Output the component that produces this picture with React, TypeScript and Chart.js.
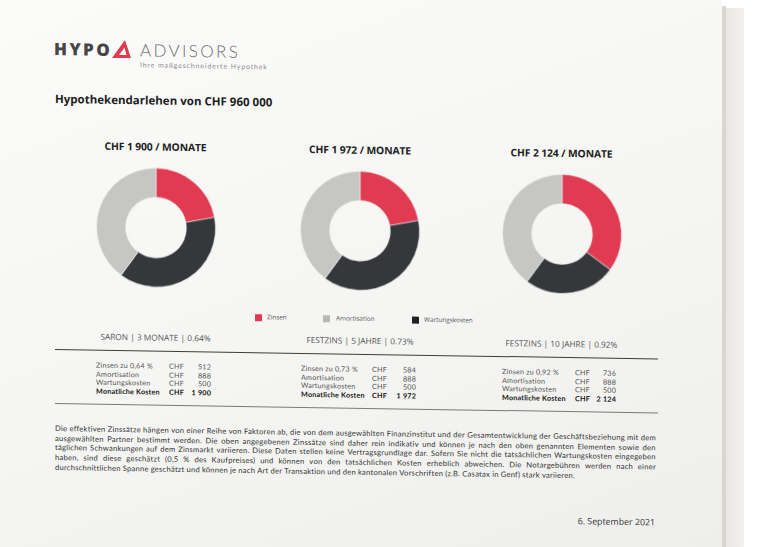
import React, { useEffect, useRef } from 'react';
import { Chart, registerables } from 'chart.js';

Chart.register(...registerables);

// ---- data ----
const sliceLabels = ['Zinsen', 'Wartungskosten', 'Amortisation'];
const sliceColors = ['#e13b51', '#35383b', '#c6c6c4'];
const saronSlices = [22, 38, 40];
const fest5Slices = [22, 38, 40];
const fest10Slices = [35, 25, 40];

const chartTitles = ['CHF 1 900 / MONATE', 'CHF 1 972 / MONATE', 'CHF 2 124 / MONATE'];
const productLabels = ['SARON | 3 MONATE | 0.64%', 'FESTZINS | 5 JAHRE | 0.73%', 'FESTZINS | 10 JAHRE | 0.92%'];
const rateLabels = ['Zinsen zu 0,64 %', 'Zinsen zu 0,73 %', 'Zinsen zu 0,92 %'];
const interestCosts = ['512', '584', '736'];
const amortisationCosts = ['888', '888', '888'];
const maintenanceCosts = ['500', '500', '500'];
const monthlyTotals = ['1 900', '1 972', '2 124'];

const legendItems = ['Zinsen', 'Amortisation', 'Wartungskosten'];
const legendColors = ['#e13b51', '#b8b8b6', '#1e1f21'];

const paragraphLines = [
  'Die effektiven Zinssätze hängen von einer Reihe von Faktoren ab, die von dem ausgewählten Finanzinstitut und der Gesamtentwicklung der Geschäftsbeziehung mit dem',
  'ausgewählten Partner bestimmt werden. Die oben angegebenen Zinssätze sind daher rein indikativ und können je nach den oben genannten Elementen sowie den',
  'täglichen Schwankungen auf dem Zinsmarkt variieren. Diese Daten stellen keine Vertragsgrundlage dar. Sofern Sie nicht die tatsächlichen Wartungskosten eingegeben',
  'haben, sind diese geschätzt (0,5 % des Kaufpreises) und können von den tatsächlichen Kosten erheblich abweichen. Die Notargebühren werden nach einer',
  'durchschnittlichen Spanne geschätzt und können je nach Art der Transaktion und den kantonalen Vorschriften (z.B. Casatax in Genf) stark variieren.',
];

const FONT = '"Open Sans", "DejaVu Sans", sans-serif';
const TIGHT = 'Lato, "Liberation Sans", sans-serif';
const centersX = [155.5, 360, 561.5];
const centerY = 226;
const CANVAS = 140;

function Donut({ values, cx }: { values: number[]; cx: number }) {
  const ref = useRef<HTMLCanvasElement>(null);
  useEffect(() => {
    const chart = new Chart(ref.current!, {
      type: 'doughnut',
      data: {
        labels: sliceLabels,
        datasets: [
          {
            data: values,
            backgroundColor: sliceColors,
            borderWidth: 0.6,
            borderColor: '#f2f2f0',
          },
        ],
      },
      options: {
        responsive: false,
        animation: false,
        radius: 59.5,
        cutout: '51%',
        events: [],
        layout: { padding: 0 },
        plugins: { legend: { display: false }, tooltip: { enabled: false } },
      } as any,
    });
    return () => chart.destroy();
  }, []);
  return (
    <canvas
      ref={ref}
      width={CANVAS}
      height={CANVAS}
      style={{ position: 'absolute', left: cx - CANVAS / 2, top: centerY - CANVAS / 2, width: CANVAS, height: CANVAS }}
    />
  );
}

const abs = (s: React.CSSProperties): React.CSSProperties => ({ position: 'absolute', whiteSpace: 'nowrap', fontFamily: FONT, ...s });

function CostTable({ i, left, chfLeft, right, top }: { i: number; left: number; chfLeft: number; right: number; top: number }) {
  const rows = [
    [rateLabels[i], interestCosts[i], false],
    ['Amortisation', amortisationCosts[i], false],
    ['Wartungskosten', maintenanceCosts[i], false],
    ['Monatliche Kosten', monthlyTotals[i], true],
  ] as [string, string, boolean][];
  return (
    <>
      {rows.map(([label, val, bold], r) => {
        const st: React.CSSProperties = {
          fontFamily: TIGHT,
          fontSize: 7.2,
          lineHeight: '8.6px',
          letterSpacing: 0.2,
          top: top + r * 8.8,
          color: bold ? '#161616' : '#555',
          fontWeight: bold ? 700 : 400,
        };
        return (
          <React.Fragment key={r}>
            <div style={abs({ ...st, left })}>{label}</div>
            <div style={abs({ ...st, left: chfLeft })}>CHF</div>
            <div style={abs({ ...st, left: right - 30, width: 30, textAlign: 'right' })}>{val}</div>
          </React.Fragment>
        );
      })}
    </>
  );
}

function ParagraphLine({ text, top, last }: { text: string; top: number; last: boolean }) {
  const words = text.split(' ');
  return (
    <div
      style={{
        position: 'absolute',
        left: 55,
        width: 601,
        top,
        height: 9.1,
        display: 'flex',
        justifyContent: last ? 'flex-start' : 'space-between',
        columnGap: last ? 2.0 : 0,
        fontFamily: TIGHT,
        fontSize: 7.6,
        lineHeight: '9.1px',
        letterSpacing: 0.24,
        color: '#333',
        whiteSpace: 'nowrap',
      }}
    >
      {words.map((w, k) => (
        <span key={k}>{w}</span>
      ))}
    </div>
  );
}

export default function App() {
  const slices = [saronSlices, fest5Slices, fest10Slices];
  const tablePos = [
    { left: 96, chfLeft: 169, right: 211 },
    { left: 301, chfLeft: 372, right: 416 },
    { left: 502, chfLeft: 575, right: 616 },
  ];
  return (
    <div style={{ position: 'fixed', left: 0, top: 0, width: 759, height: 547, overflow: 'hidden', background: '#ffffff' }}>
      {/* paper */}
      <div style={{ position: 'absolute', left: 0, top: 0, width: 722, height: 547, background: 'linear-gradient(160deg, #fbfbfa 0%, #f5f5f3 55%, #eeeeec 100%)' }} />
      <div style={{ position: 'absolute', left: 722, top: 6, width: 4, height: 541, background: '#d9d6d0' }} />
      <div style={{ position: 'absolute', left: 726, top: 8, width: 18, height: 539, background: 'linear-gradient(90deg, #e9e7e3, #f3f2ef)' }} />

      <div style={{ position: 'absolute', left: 0, top: 0, width: 759, height: 547, transform: 'skewY(0.9deg)', transformOrigin: '55px 0px' }}>
        {/* logo */}
        <div style={abs({ left: 54, top: 40, fontSize: 17, lineHeight: '17px', fontWeight: 800, letterSpacing: 2.4, color: '#464646' })}>HYPO</div>
        <svg style={{ position: 'absolute', left: 112, top: 39 }} width={19} height={18} viewBox="0 0 19 18">
          <path d="M0 18 L13 0 L19 18 Z M7 15 L12.5 7.5 L14.5 15 Z" fill="#e2394f" fillRule="evenodd" />
        </svg>
        <div style={abs({ left: 140, top: 38.5, fontFamily: TIGHT, fontSize: 17, lineHeight: '20.4px', fontWeight: 300, letterSpacing: 2.35, color: '#6b6b6b' })}>ADVISORS</div>
        <div style={abs({ left: 140, top: 59.2, fontFamily: TIGHT, fontSize: 6.9, lineHeight: '8.2px', letterSpacing: 0.9, color: '#8a8a8a' })}>Ihre maßgeschneiderte Hypothek</div>

        <div style={abs({ left: 55, top: 92, fontSize: 11.5, lineHeight: '14px', fontWeight: 700, color: '#1d1d1d' })}>Hypothekendarlehen von CHF 960 000</div>

        {centersX.map((cx, i) => (
          <div key={'t' + i} style={abs({ left: cx - 100, width: 200, textAlign: 'center', top: 138.5, fontSize: 10.3, lineHeight: '12px', fontWeight: 700, color: '#222', letterSpacing: -0.1 })}>
            {chartTitles[i]}
          </div>
        ))}

        {centersX.map((cx, i) => (
          <Donut key={'d' + i} values={slices[i]} cx={cx} />
        ))}

        {/* legend */}
        {[
          { sq: 255, tx: 267 },
          { sq: 323, tx: 336 },
          { sq: 412, tx: 424 },
        ].map((p, i) => (
          <React.Fragment key={'l' + i}>
            <div style={{ position: 'absolute', left: p.sq, top: 311, width: 7, height: 7, background: legendColors[i] }} />
            <div style={abs({ left: p.tx, top: 310, fontSize: 6.4, lineHeight: '8px', color: '#555' })}>{legendItems[i]}</div>
          </React.Fragment>
        ))}

        {centersX.map((cx, i) => (
          <div key={'p' + i} style={abs({ left: cx - 100, width: 200, textAlign: 'center', top: 330.5, fontSize: 8.3, lineHeight: '10px', color: '#555' })}>
            {productLabels[i]}
          </div>
        ))}

        <div style={{ position: 'absolute', left: 55, top: 349, width: 603, height: 1.2, background: '#3c3c3c' }} />

        {tablePos.map((p, i) => (
          <CostTable key={'c' + i} i={i} left={p.left} chfLeft={p.chfLeft} right={p.right} top={360.7} />
        ))}

        <div style={{ position: 'absolute', left: 55, top: 403, width: 603, height: 1, background: '#7a7a7a' }} />

        {paragraphLines.map((line, i) => (
          <ParagraphLine key={'pl' + i} text={line} top={423.8 + i * 9.7} last={i === paragraphLines.length - 1} />
        ))}

        <div style={abs({ left: 555, width: 100, textAlign: 'right', top: 507.5, fontSize: 8.8, lineHeight: '11px', color: '#333' })}>6. September 2021</div>
      </div>
    </div>
  );
}
